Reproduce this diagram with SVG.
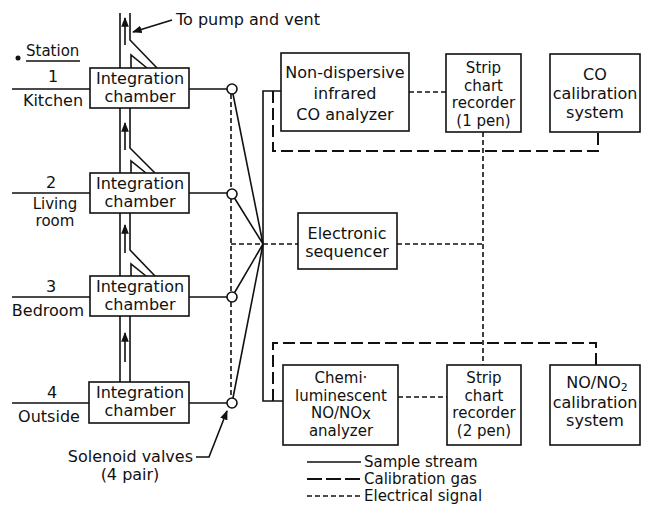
<svg xmlns="http://www.w3.org/2000/svg" width="646" height="513" viewBox="0 0 646 513">
<defs>
<style>
text{font-family:"DejaVu Sans","Liberation Sans",sans-serif;font-size:16px;fill:#111}
.c{text-anchor:middle}
.box{fill:#fff;stroke:#111;stroke-width:1.6}
.s{fill:none;stroke:#111;stroke-width:1.6}
.g{fill:none;stroke:#111;stroke-width:2;stroke-dasharray:12 5}
.e{fill:none;stroke:#111;stroke-width:1.6;stroke-dasharray:5 3}
.v{fill:#fff;stroke:#111;stroke-width:1.6}
.lg{font-size:15px}
.sm{font-size:15px}
</style>
<marker id="ah" viewBox="0 0 10 10" refX="9" refY="5" markerWidth="6" markerHeight="6" orient="auto"><path d="M0,1 L10,5 L0,9 z" fill="#111"/></marker>
</defs>
<rect width="646" height="513" fill="#fff"/>
<g id="connectors">
<path class="s" d="M12,89 H90 M12,193 H90 M12,297 H90 M12,403 H90"/>
<path class="s" d="M189,89 H227 M189,193 H227 M189,297 H227 M189,403 H227"/>
<path class="e" d="M231,94 V398 M231,244 H298 M397,244 H483 M483,132 V365 M409,92 H446 M398,397 H447"/>
<path class="s" d="M232,89 L263,244 M232,194 L263,244 M232,297 L263,244 M232,403 L263,244"/>
<path class="s" d="M281,91 H263 V401 H283"/>
<path class="g" d="M273,91 V151 H598 V132 M273,401 V343 H596 V365"/>
<path class="s" d="M120,13 V68 M130,13 V40 L157,68 M131,68 V55 L147,68"/>
<path class="s" d="M120,108 V173 M130,108 V148 L155,173 M131,173 V161 L146,173"/>
<path class="s" d="M120,213 V276 M130,213 V250 L155,276 M131,276 V264 L146,276"/>
<path class="s" d="M120,316 V382 M130,316 V382"/>
<path class="s" marker-end="url(#ah)" d="M125,45 V18"/>
<path class="s" marker-end="url(#ah)" d="M125,150 V123"/>
<path class="s" marker-end="url(#ah)" d="M125,253 V225"/>
<path class="s" marker-end="url(#ah)" d="M125,362 V333"/>
<path class="s" marker-end="url(#ah)" d="M172,20 L133,32"/>
<path class="s" marker-end="url(#ah)" d="M196,457 H209 L227,411"/>
</g>
<g id="labels">
<text x="176" y="25">To pump and vent</text>
<circle cx="18" cy="58" r="2.5" fill="#111"/>
<text x="26" y="56" style="font-size:15px">Station</text>
<path class="s" d="M26,61 H80"/>
<text class="c" x="53" y="82">1</text>
<text class="c" x="53" y="106">Kitchen</text>
<text class="c" x="51" y="188">2</text>
<text class="c sm" x="55" y="209">Living</text>
<text class="c sm" x="55" y="226">room</text>
<text class="c" x="51" y="292">3</text>
<text class="c" x="48" y="316">Bedroom</text>
<text class="c" x="52" y="398">4</text>
<text class="c" x="49" y="422">Outside</text>
<text x="193" y="462" text-anchor="end">Solenoid valves</text>
<text class="c" x="130" y="480">(4 pair)</text>
</g>
<g id="chamber1"><rect class="box" x="90" y="68" width="99" height="40"/><text class="c" x="140" y="84">Integration</text><text class="c" x="140" y="102">chamber</text></g>
<g id="chamber2"><rect class="box" x="90" y="173" width="99" height="40"/><text class="c" x="140" y="189">Integration</text><text class="c" x="140" y="207">chamber</text></g>
<g id="chamber3"><rect class="box" x="90" y="276" width="99" height="40"/><text class="c" x="140" y="292">Integration</text><text class="c" x="140" y="310">chamber</text></g>
<g id="chamber4"><rect class="box" x="89" y="382" width="100" height="41"/><text class="c" x="140" y="398">Integration</text><text class="c" x="140" y="416">chamber</text></g>
<g id="valves">
<circle class="v" cx="232" cy="89" r="5"/>
<circle class="v" cx="232" cy="194" r="5"/>
<circle class="v" cx="232" cy="297" r="5"/>
<circle class="v" cx="232" cy="403" r="5"/>
</g>
<g id="ndir"><rect class="box" x="281" y="53" width="128" height="78"/><text class="c" x="345" y="78">Non-dispersive</text><text class="c" x="345" y="99">infrared</text><text class="c" x="345" y="120">CO analyzer</text></g>
<g id="recorder1"><rect class="box" x="446" y="54" width="75" height="78"/><text class="c sm" x="483.5" y="73">Strip</text><text class="c sm" x="483.5" y="90.5">chart</text><text class="c sm" x="483.5" y="108">recorder</text><text class="c sm" x="483.5" y="125.5">(1 pen)</text></g>
<g id="cocal"><rect class="box" x="550" y="54" width="90" height="78"/><text class="c" x="595" y="80">CO</text><text class="c" x="595" y="99">calibration</text><text class="c" x="595" y="118">system</text></g>
<g id="sequencer"><rect class="box" x="298" y="213" width="99" height="56"/><text class="c" x="347" y="239">Electronic</text><text class="c" x="347" y="257">sequencer</text></g>
<g id="chemi"><rect class="box" x="283" y="365" width="115" height="80"/><text class="c sm" x="341" y="383">Chemi·</text><text class="c sm" x="341" y="400.5">luminescent</text><text class="c sm" x="341" y="418">NO/NO<tspan dy="1">x</tspan></text><text class="c sm" x="341" y="436">analyzer</text></g>
<g id="recorder2"><rect class="box" x="447" y="365" width="74" height="80"/><text class="c sm" x="484" y="383">Strip</text><text class="c sm" x="484" y="400.5">chart</text><text class="c sm" x="484" y="418">recorder</text><text class="c sm" x="484" y="435.5">(2 pen)</text></g>
<g id="noxcal"><rect class="box" x="550" y="365" width="90" height="80"/><text class="c" x="597" y="388">NO/NO<tspan style="font-size:11px" dy="3">2</tspan></text><text class="c" x="595" y="408">calibration</text><text class="c" x="595" y="426">system</text></g>
<g id="legend">
<path class="s" d="M307,462 H361"/>
<path class="g" d="M307,479 H361" style="stroke-dasharray:15 4"/>
<path class="e" d="M307,496 H361"/>
<text class="lg" x="364" y="467">Sample stream</text>
<text class="lg" x="364" y="484">Calibration gas</text>
<text class="lg" x="364" y="501">Electrical signal</text>
</g>
</svg>
